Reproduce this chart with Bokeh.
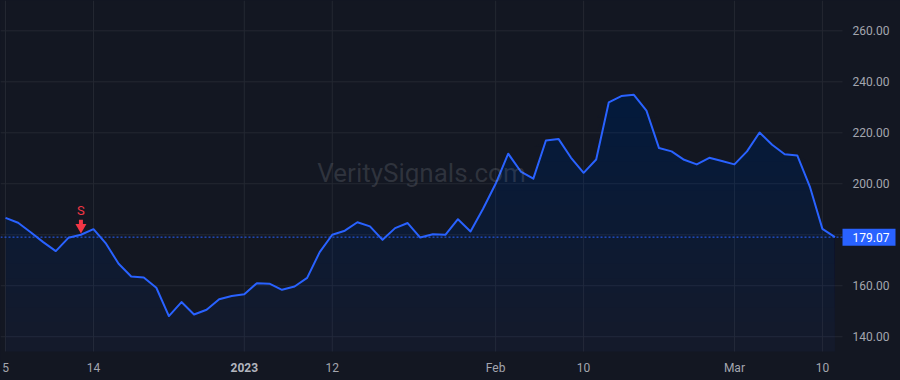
import numpy as np
from bokeh.plotting import figure
from bokeh.models import Range1d, Label
from bokeh.core.properties import value
from bokeh.embed import file_html
from bokeh.resources import INLINE

# ---------------- data ----------------
dates = [
    "2022-12-05", "2022-12-06", "2022-12-07", "2022-12-08", "2022-12-09", "2022-12-12", "2022-12-13",
    "2022-12-14", "2022-12-15", "2022-12-16", "2022-12-19", "2022-12-20", "2022-12-21", "2022-12-22",
    "2022-12-23", "2022-12-27", "2022-12-28", "2022-12-29", "2022-12-30",
    "2023-01-03", "2023-01-04", "2023-01-05", "2023-01-06", "2023-01-09", "2023-01-10", "2023-01-11",
    "2023-01-12", "2023-01-13", "2023-01-17", "2023-01-18", "2023-01-19", "2023-01-20", "2023-01-23",
    "2023-01-24", "2023-01-25", "2023-01-26", "2023-01-27", "2023-01-30", "2023-01-31",
    "2023-02-01", "2023-02-02", "2023-02-03", "2023-02-06", "2023-02-07", "2023-02-08", "2023-02-09",
    "2023-02-10", "2023-02-13", "2023-02-14", "2023-02-15", "2023-02-16", "2023-02-17", "2023-02-21",
    "2023-02-22", "2023-02-23", "2023-02-24", "2023-02-27", "2023-02-28",
    "2023-03-01", "2023-03-02", "2023-03-03", "2023-03-06", "2023-03-07", "2023-03-08", "2023-03-09",
    "2023-03-10", "2023-03-13",
]
prices = [
    186.6, 184.7, 181.0, 177.1, 173.6, 178.8, 180.0, 182.2, 176.5, 168.6,
    163.6, 163.2, 159.2, 148.1, 153.6, 148.7, 150.6, 154.7, 156.0, 156.7,
    161.0, 160.8, 158.4, 159.7, 163.1, 173.2, 180.0, 181.6, 184.9, 183.3,
    178.0, 182.6, 184.6, 178.9, 180.2, 180.0, 186.1, 181.3, 190.2, 200.0,
    211.8, 204.8, 202.0, 217.0, 217.6, 210.2, 204.3, 209.5, 231.9, 234.4,
    234.9, 228.7, 214.0, 212.7, 209.4, 207.6, 210.2, 208.9, 207.6, 212.7,
    220.1, 215.3, 211.6, 211.1, 198.9, 182.3, 179.07,
]
x_tick_dates = ["2022-12-05", "2022-12-14", "2023-01-03", "2023-01-12",
                "2023-02-01", "2023-02-10", "2023-03-01", "2023-03-10"]
x_tick_labels = ["5", "14", "2023", "12", "Feb", "10", "Mar", "10"]
x_tick_styles = ["normal", "normal", "bold", "normal", "normal", "normal", "normal", "normal"]
y_ticks = [140, 160, 180, 200, 220, 240, 260]
y_tick_shown = [140, 160, 200, 220, 240, 260]
signal_dates = ["2022-12-13"]
signal_labels = ["S"]
watermark = "VeritySignals.com"

# ---------------- styling ----------------
BG = "#131722"
GRID = "#242832"
BLUE = "#2962ff"
RED = "#f23645"
TXT = "#a3a6af"
FONT = "Roboto"

W, H = 900, 380
PANE_W, PANE_H = 842, 351          # price pane inside the canvas

idx = np.arange(len(prices))
pr = np.array(prices)
pos = {d: i for i, d in enumerate(dates)}

# price-pane data limits
x0, x1 = -0.4, 66.6
y0, y1 = 134.2, 271.9
pxu = PANE_W / (x1 - x0)            # pixels per index step
ppu = PANE_H / (y1 - y0)            # pixels per price unit
X_END = x0 + W / pxu                # canvas extends to the right for the price scale
Y_BOT = y1 - H / ppu                # and below for the time scale

p = figure(width=W, height=H, x_range=Range1d(x0, X_END), y_range=Range1d(Y_BOT, y1),
           x_axis_location=None, y_axis_location=None,
           output_backend="svg", toolbar_location=None,
           min_border_left=0, min_border_top=0, min_border_right=0, min_border_bottom=0)
p.background_fill_color = BG
p.border_fill_color = BG
p.outline_line_color = None
p.grid.visible = False
p.styles = {"background-color": BG}

xt = [pos[d] for d in x_tick_dates]

# grid lines of the price pane
p.segment(x0=xt, y0=y0, x1=xt, y1=y1, line_color=GRID, line_width=1)
p.segment(x0=x0, y0=y_ticks, x1=x1, y1=y_ticks, line_color=GRID, line_width=1)

# gradient-like area fill: stacked translucent layers, denser toward the top
p.varea(x=idx, y1=np.full(len(pr), y0), y2=pr, fill_color=BLUE, fill_alpha=0.045)
nb = 24
levels = np.linspace(y0, y1, nb + 1)[1:-1]
for lo in levels:
    p.varea(x=idx, y1=np.full(len(pr), lo), y2=np.maximum(pr, lo),
            fill_color=BLUE, fill_alpha=0.0085)

# watermark
p.add_layout(Label(x=(x0 + x1) / 2, y=(y0 + y1) / 2, text=watermark,
                   text_align="center", text_baseline="middle", y_offset=3,
                   text_font=FONT, text_font_size="26px",
                   text_color="#9598a1", text_alpha=0.22))

# last price dotted line
p.segment(x0=[x0], y0=[prices[-1]], x1=[x1], y1=[prices[-1]], line_color=BLUE,
          line_dash="2 2", line_width=1)

# price line
p.line(idx, pr, line_color=BLUE, line_width=2, line_join="round")

# signal marker
for d, s in zip(signal_dates, signal_labels):
    i = pos[d]
    v = prices[i]
    p.rect(x=[i], y=[v + 12.0 / ppu], width=4, height=6, width_units="screen",
           height_units="screen", fill_color=RED, line_color=None)
    p.scatter(x=[i], y=[v + 7.5 / ppu], marker="inverted_triangle", size=11,
              fill_color=RED, line_color=None)
    p.text(x=[i], y=[v], text=[s], y_offset=-24, text_align="center",
           text_baseline="middle", text_font=value(FONT), text_font_size="13px",
           text_color=RED)

# price scale labels
p.text(x=x1, y=y_tick_shown, text=[f"{v:.2f}" for v in y_tick_shown], x_offset=10,
       text_align="left", text_baseline="middle", text_font=value(FONT),
       text_font_size="12px", text_color=TXT)

# time scale labels
p.text(x=xt, y=y0, text=x_tick_labels, y_offset=16, text_align="center",
       text_baseline="middle", text_font=value(FONT), text_font_size="12px",
       text_font_style=x_tick_styles,
       text_color=[("#b2b5be" if s == "bold" else TXT) for s in x_tick_styles])

# last price tag
last = prices[-1]
p.quad(left=[x1], right=[x1 + 53 / pxu], bottom=[last - 8.5 / ppu], top=[last + 8.5 / ppu],
       fill_color=BLUE, line_color=None)
p.text(x=[x1], y=[last], text=[f"{last:.2f}"], x_offset=10, text_align="left",
       text_baseline="middle", text_font=value(FONT), text_font_size="12px",
       text_color="#ffffff")

open("out.html", "w").write(file_html(p, INLINE))
